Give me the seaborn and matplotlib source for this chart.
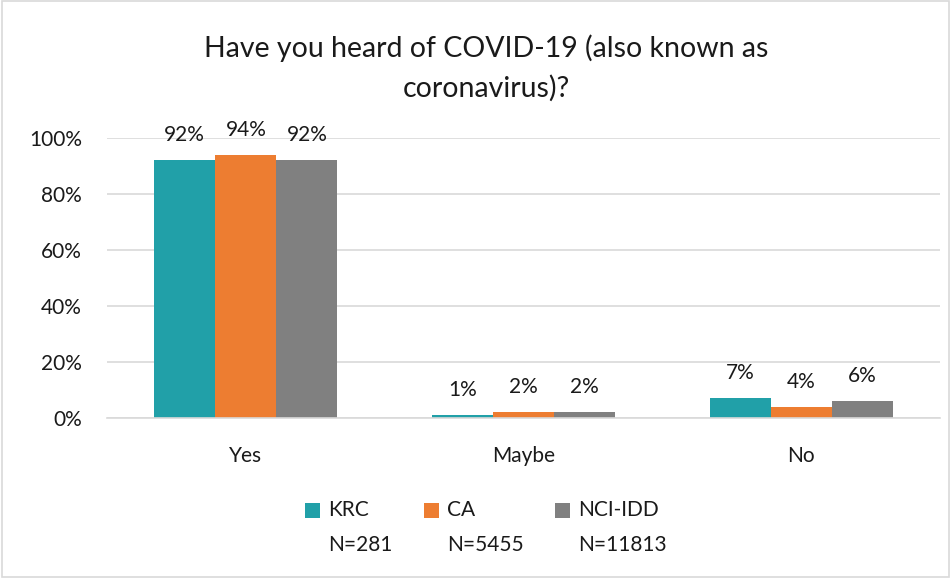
import matplotlib
matplotlib.use("Agg")
import matplotlib.pyplot as plt
import matplotlib.patches as mpatches
import seaborn as sns
import pandas as pd

categories = ["Yes", "Maybe", "No"]
series = ["KRC", "CA", "NCI-IDD"]
series_n = ["N=281", "N=5455", "N=11813"]
krc = [92, 1, 7]
ca = [94, 2, 4]
nci = [92, 2, 6]
colors = ["#21A0A8", "#ED7D31", "#808080"]
title = "Have you heard of COVID-19 (also known as\ncoronavirus)?"

rows = []
for s, vals in zip(series, [krc, ca, nci]):
    for c, v in zip(categories, vals):
        rows.append({"cat": c, "series": s, "val": v})
df = pd.DataFrame(rows)

sns.set_theme(style="white")
plt.rcParams["font.family"] = ["Lato", "DejaVu Sans"]
TXT = "#1a1a1a"
FS = 15

W, H = 951, 578
fig = plt.figure(figsize=(W / 100, H / 100), dpi=100)
ax = fig.add_axes([107/W, 160/H, 833/W, 280/H])
sns.barplot(data=df, x="cat", y="val", hue="series", order=categories,
            hue_order=series, palette=colors, width=0.66, saturation=1,
            ax=ax, legend=False, edgecolor="none")

ax.set_ylim(0, 100)
ax.set_yticks([0, 20, 40, 60, 80, 100])
ax.set_yticklabels([f"{t}%" for t in [0, 20, 40, 60, 80, 100]], fontsize=FS, color=TXT)
ax.tick_params(axis="x", labelsize=FS, colors=TXT, length=0, pad=20)
ax.tick_params(axis="y", length=0, pad=18)
ax.set_xlabel("")
ax.set_ylabel("")
ax.yaxis.grid(True, color="#D9D9D9", linewidth=1.2)
ax.set_axisbelow(True)
for s in ["top", "right", "left"]:
    ax.spines[s].set_visible(False)
ax.spines["bottom"].set_color("#D9D9D9")
ax.spines["bottom"].set_linewidth(1.2)

for cont in ax.containers:
    ax.bar_label(cont, labels=[f"{v:.0f}%" for v in cont.datavalues],
                 padding=11, fontsize=FS, color=TXT)

fig.text(486/W, 1 - 68/H, title, ha="center", va="center", fontsize=20.5, color=TXT,
         linespacing=1.55)

# legend: square marker + series name, with sample size underneath
text_x = [328, 447, 578]
sq = 15
for c, name, n, tx in zip(colors, series, series_n, text_x):
    fig.patches.append(mpatches.Rectangle(((tx - 8 - sq) / W, (H - 510 - sq / 2) / H), sq / W, sq / H,
                                          transform=fig.transFigure, facecolor=c, edgecolor="none"))
    fig.text(tx / W, 1 - 510/H, name, ha="left", va="center", fontsize=FS, color=TXT)
    fig.text(tx / W, 1 - 545/H, n, ha="left", va="center", fontsize=FS, color=TXT)

fig.patches.append(mpatches.Rectangle((0.002, 0.002), 0.996, 0.996, transform=fig.transFigure,
                                      fill=False, edgecolor="#D9D9D9", linewidth=1.2))

fig.savefig("out.png", dpi=100)
